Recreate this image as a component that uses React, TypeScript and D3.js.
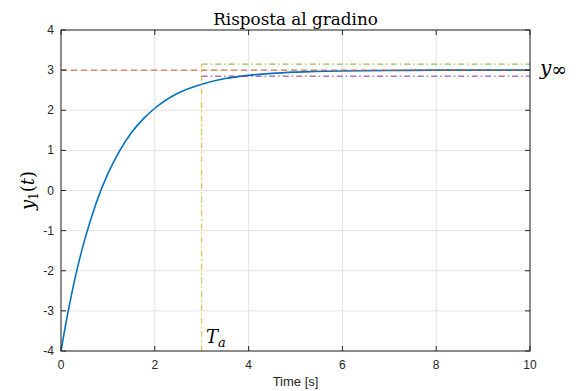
import React from "react";
import * as d3 from "d3";

const timeValues = [0, 0.125, 0.25, 0.375, 0.5, 0.75, 1, 1.25, 1.5, 1.75, 2, 2.5, 3, 3.5, 4, 4.5, 5, 6, 7, 8, 9, 10];
const responseValues = [-4, -3.18, -2.45, -1.81, -1.25, -0.31, 0.42, 0.99, 1.44, 1.78, 2.05, 2.43, 2.65, 2.79, 2.87, 2.92, 2.95, 2.98, 2.99, 3.0, 3.0, 3.0];
const xTicks = [0, 2, 4, 6, 8, 10];
const yTicks = [-4, -3, -2, -1, 0, 1, 2, 3, 4];
const yInf = [3];
const bandUpper = [3.15];
const bandLower = [2.85];
const settlingTime = [3];

const W = 578;
const H = 391;
const left = 61;
const right = 530;
const top = 30;
const bottom = 351;

export default function App() {
  const x = d3.scaleLinear().domain([0, 10]).range([left, right]);
  const y = d3.scaleLinear().domain([-4, 4]).range([bottom, top]);
  const pts: [number, number][] = timeValues.map((t, i) => [t, responseValues[i]]);
  const line = d3
    .line<[number, number]>()
    .x((d) => x(d[0]))
    .y((d) => y(d[1]))
    .curve(d3.curveMonotoneX);
  const sans = "'Liberation Sans', Arial, sans-serif";
  const serif = "'DejaVu Serif', 'Liberation Serif', serif";
  const ta = settlingTime[0];
  return (
    <svg width={W} height={H} style={{ position: "absolute", left: 0, top: 0, background: "#fff" }}>
      <rect x={0} y={0} width={W} height={H} fill="#fff" />
      {xTicks.map((t) => (
        <line key={"gx" + t} x1={x(t)} x2={x(t)} y1={top} y2={bottom} stroke="#e3e3e3" strokeWidth={1} />
      ))}
      {yTicks.map((t) => (
        <line key={"gy" + t} x1={left} x2={right} y1={y(t)} y2={y(t)} stroke="#e3e3e3" strokeWidth={1} />
      ))}
      <defs>
        <clipPath id="plot">
          <rect x={left} y={top} width={right - left} height={bottom - top} />
        </clipPath>
      </defs>
      <g clipPath="url(#plot)">
        <path d={line(pts) || ""} fill="none" stroke="#0072BD" strokeWidth={1.6} />
        <line x1={x(0)} x2={x(10)} y1={y(yInf[0])} y2={y(yInf[0])} stroke="#D95319" strokeWidth={1} strokeDasharray="6,4" />
        <line x1={x(ta)} x2={x(10)} y1={y(bandUpper[0])} y2={y(bandUpper[0])} stroke="#77AC30" strokeWidth={1} strokeDasharray="6,3,1.5,3" />
        <line x1={x(ta)} x2={x(10)} y1={y(bandLower[0])} y2={y(bandLower[0])} stroke="#7E2F8E" strokeWidth={1} strokeDasharray="6,3,1.5,3" />
        <line x1={x(ta)} x2={x(ta)} y1={y(-4)} y2={y(bandUpper[0])} stroke="#EDB120" strokeWidth={1} strokeDasharray="6,3,1.5,3" />
      </g>
      <rect x={left} y={top} width={right - left} height={bottom - top} fill="none" stroke="#262626" strokeWidth={1} />
      {xTicks.map((t) => (
        <g key={"tx" + t}>
          <line x1={x(t)} x2={x(t)} y1={bottom} y2={bottom - 5} stroke="#262626" />
          <line x1={x(t)} x2={x(t)} y1={top} y2={top + 5} stroke="#262626" />
          <text x={x(t)} y={369} textAnchor="middle" fontFamily={sans} fontSize={12} fill="#262626">
            {t}
          </text>
        </g>
      ))}
      {yTicks.map((t) => (
        <g key={"ty" + t}>
          <line x1={left} x2={left + 5} y1={y(t)} y2={y(t)} stroke="#262626" />
          <line x1={right} x2={right - 5} y1={y(t)} y2={y(t)} stroke="#262626" />
          <text x={54} y={y(t) + 4} textAnchor="end" fontFamily={sans} fontSize={12} fill="#262626">
            {t}
          </text>
        </g>
      ))}
      <text x={(left + right) / 2} y={25} textAnchor="middle" fontFamily={serif} fontSize={16.8} fill="#000">
        Risposta al gradino
      </text>
      <text x={(left + right) / 2} y={386} textAnchor="middle" fontFamily={sans} fontSize={13} fill="#262626">
        Time [s]
      </text>
      <text transform={`translate(34,${(top + bottom) / 2}) rotate(-90)`} textAnchor="middle" fontFamily={serif} fontSize={18} fontStyle="italic" fill="#000">
        y<tspan fontSize={12} dy={4} fontStyle="normal">1</tspan>
        <tspan dy={-4} fontStyle="normal">(</tspan>t<tspan fontStyle="normal">)</tspan>
      </text>
      <text x={540} y={75} fontFamily={serif} fontSize={20} fontStyle="italic" fill="#000">
        y<tspan fontSize={19} dy={1} fontStyle="normal">∞</tspan>
      </text>
      <text x={206} y={343} fontFamily={serif} fontSize={18} fontStyle="italic" fill="#000">
        T<tspan fontSize={13} dy={4}>a</tspan>
      </text>
    </svg>
  );
}
